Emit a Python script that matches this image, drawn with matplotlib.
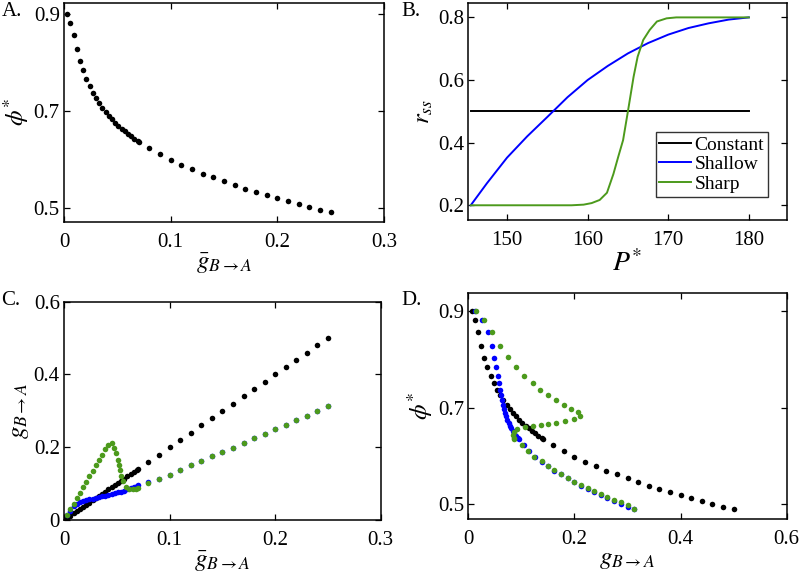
import matplotlib
matplotlib.use("Agg")
import matplotlib.pyplot as plt

plt.rcParams['font.family'] = ['Liberation Serif', 'DejaVu Serif']
plt.rcParams['mathtext.fontset'] = 'stix'

# shared gbar grid for the constant and shallow series
gbar = [0.003, 0.006, 0.009, 0.012, 0.015, 0.018, 0.021, 0.024, 0.027, 0.030,
        0.033, 0.036, 0.039, 0.042, 0.045, 0.048, 0.051, 0.054, 0.057, 0.060,
        0.063, 0.066, 0.069, 0.070, 0.080, 0.090, 0.100, 0.110, 0.120, 0.130,
        0.140, 0.150, 0.160, 0.170, 0.180, 0.190, 0.200, 0.210, 0.220, 0.230,
        0.240, 0.250]
phi = [0.899, 0.881, 0.856, 0.828, 0.803, 0.783, 0.766, 0.750, 0.737, 0.726,
       0.715, 0.706, 0.697, 0.689, 0.683, 0.675, 0.668, 0.663, 0.657, 0.652,
       0.648, 0.642, 0.637, 0.636, 0.623, 0.610, 0.599, 0.588, 0.579, 0.570,
       0.562, 0.554, 0.546, 0.539, 0.532, 0.525, 0.519, 0.513, 0.507, 0.501,
       0.494, 0.490]
g_const = [0.006, 0.012, 0.018, 0.024, 0.030, 0.036, 0.042, 0.048, 0.054, 0.060,
           0.066, 0.072, 0.078, 0.084, 0.090, 0.096, 0.102, 0.108, 0.114, 0.120,
           0.126, 0.132, 0.138, 0.140, 0.160, 0.180, 0.200, 0.220, 0.240, 0.260,
           0.280, 0.300, 0.320, 0.340, 0.360, 0.380, 0.400, 0.420, 0.440, 0.460,
           0.480, 0.500]
g_shallow = [0.013, 0.026, 0.038, 0.045, 0.049, 0.053, 0.055, 0.057, 0.059, 0.061,
             0.063, 0.065, 0.067, 0.069, 0.071, 0.073, 0.076, 0.078, 0.081, 0.084,
             0.087, 0.090, 0.094, 0.095, 0.105, 0.114, 0.125, 0.138, 0.150, 0.162,
             0.175, 0.187, 0.199, 0.212, 0.225, 0.237, 0.250, 0.262, 0.275, 0.287,
             0.300, 0.313]

# sharp series has its own (finer) grid around the bump
gbar_sharp = [0.003, 0.006, 0.009, 0.012, 0.015, 0.018, 0.021, 0.024, 0.027, 0.030,
              0.033, 0.036, 0.039, 0.042, 0.045, 0.047, 0.049, 0.051, 0.052, 0.053,
              0.054, 0.056, 0.059, 0.062, 0.065, 0.068, 0.070, 0.080, 0.090, 0.100,
              0.110, 0.120, 0.130, 0.140, 0.150, 0.160, 0.170, 0.180, 0.190, 0.200,
              0.210, 0.220, 0.230, 0.240, 0.250]
phi_sharp = [0.899, 0.881, 0.856, 0.828, 0.804, 0.783, 0.766, 0.751, 0.737, 0.726,
             0.715, 0.706, 0.698, 0.690, 0.682, 0.676, 0.673, 0.669, 0.667, 0.665,
             0.663, 0.660, 0.656, 0.650, 0.643, 0.638, 0.636, 0.622, 0.610, 0.599,
             0.589, 0.579, 0.571, 0.563, 0.554, 0.547, 0.540, 0.534, 0.528, 0.522,
             0.516, 0.510, 0.505, 0.498, 0.491]
g_sharp = [0.014, 0.030, 0.044, 0.060, 0.075, 0.090, 0.105, 0.121, 0.136, 0.151,
           0.165, 0.180, 0.194, 0.206, 0.211, 0.199, 0.183, 0.166, 0.151, 0.137,
           0.121, 0.106, 0.092, 0.086, 0.085, 0.086, 0.087, 0.102, 0.113, 0.124,
           0.138, 0.150, 0.162, 0.175, 0.187, 0.199, 0.212, 0.225, 0.237, 0.250,
           0.262, 0.275, 0.287, 0.300, 0.313]

# panel B response curves
P_const = [145.5, 180.0]
r_const = [0.5, 0.5]
P_shallow = [145.5, 147.5, 150.0, 152.5, 155.0, 157.5, 160.0, 162.5, 165.0,
             167.5, 170.0, 172.5, 175.0, 177.5, 180.0]
r_shallow = [0.200, 0.270, 0.352, 0.420, 0.482, 0.545, 0.600, 0.645, 0.685,
             0.718, 0.745, 0.766, 0.781, 0.793, 0.800]
P_sharp = [145.5, 155.0, 158.0, 159.5, 160.5, 161.5, 162.4, 163.2, 163.8, 164.4,
           165.0, 165.7, 166.2, 166.9, 167.7, 168.6, 169.8, 171.0, 180.0]
r_sharp = [0.200, 0.200, 0.200, 0.202, 0.207, 0.217, 0.240, 0.300, 0.355, 0.408,
           0.500, 0.610, 0.674, 0.728, 0.760, 0.787, 0.797, 0.800, 0.800]

black = 'black'
blue = '#0000ff'
green = '#4c9a1c'
ms = 4.0
tick_fs = 15
lab_fs = 18


def style(ax):
    ax.tick_params(direction='in', top=True, right=True, labelsize=tick_fs,
                   length=4, width=0.9)
    ax.tick_params(axis='x', pad=8)
    ax.tick_params(axis='y', pad=3)
    for s in ax.spines.values():
        s.set_linewidth(1.1)


fig = plt.figure(figsize=(8, 5.8), dpi=100)

# A
axA = fig.add_axes([0.08, 0.618, 0.40, 0.3766])
axA.plot(gbar, phi, 'o', color=black, ms=ms, mec='none')
axA.set_xlim(0, 0.3)
axA.set_ylim(0.471, 0.922)
axA.set_xticks([0, 0.1, 0.2, 0.3])
axA.set_xticklabels(['0', '0.1', '0.2', '0.3'])
axA.set_yticks([0.5, 0.7, 0.9])
axA.set_xlabel(r'$\bar{g}_{B\to A}$', fontsize=lab_fs, labelpad=0)
axA.set_ylabel(r'$\phi^{*}$', fontsize=lab_fs, labelpad=2)
style(axA)

# B
axB = fig.add_axes([0.5854, 0.6207, 0.398, 0.3736])
axB.plot(P_const, r_const, color=black, lw=1.4, label='Constant')
axB.plot(P_shallow, r_shallow, color=blue, lw=1.4, label='Shallow')
axB.plot(P_sharp, r_sharp, color=green, lw=1.4, label='Sharp')
axB.set_xlim(145.2, 184.7)
axB.set_ylim(0.153, 0.845)
axB.set_xticks([150, 160, 170, 180])
axB.set_yticks([0.2, 0.4, 0.6, 0.8])
axB.set_xlabel(r'$P^{*}$', fontsize=20, labelpad=0)
axB.set_ylabel(r'$r_{ss}$', fontsize=lab_fs, labelpad=2)
leg = axB.legend(loc='upper right', bbox_to_anchor=(0.941, 0.406), fontsize=14,
                 frameon=True, fancybox=False, borderaxespad=0, handlelength=1.6,
                 handletextpad=0.2, borderpad=0.2, labelspacing=0.1)
leg.get_frame().set_edgecolor('black')
leg.get_frame().set_linewidth(1.0)
style(axB)

# C
axC = fig.add_axes([0.08, 0.1034, 0.396, 0.3764])
axC.plot(gbar, g_const, 'o', color=black, ms=ms, mec='none')
axC.plot(gbar, g_shallow, 'o', color=blue, ms=ms, mec='none')
axC.plot(gbar_sharp, g_sharp, 'o', color=green, ms=ms, mec='none')
axC.set_xlim(0, 0.3)
axC.set_ylim(0, 0.6)
axC.set_xticks([0, 0.1, 0.2, 0.3])
axC.set_xticklabels(['0', '0.1', '0.2', '0.3'])
axC.set_yticks([0, 0.2, 0.4, 0.6])
axC.set_yticklabels(['0', '0.2', '0.4', '0.6'])
axC.set_xlabel(r'$\bar{g}_{B\to A}$', fontsize=lab_fs, labelpad=0)
axC.set_ylabel(r'$g_{B\to A}$', fontsize=lab_fs, labelpad=2)
style(axC)

# D
axD = fig.add_axes([0.5854, 0.1052, 0.398, 0.389])
axD.plot(g_const, phi, 'o', color=black, ms=ms, mec='none')
axD.plot(g_shallow, phi, 'o', color=blue, ms=ms, mec='none')
axD.plot(g_sharp, phi_sharp, 'o', color=green, ms=ms, mec='none')
axD.set_xlim(0, 0.6)
axD.set_ylim(0.47, 0.936)
axD.set_xticks([0, 0.2, 0.4, 0.6])
axD.set_xticklabels(['0', '0.2', '0.4', '0.6'])
axD.set_yticks([0.5, 0.7, 0.9])
axD.set_xlabel(r'$g_{B\to A}$', fontsize=lab_fs, labelpad=0)
axD.set_ylabel(r'$\phi^{*}$', fontsize=lab_fs, labelpad=2)
style(axD)

for x, y, t in [(0.002, 0.997, 'A.'), (0.502, 0.997, 'B.'),
                (0.002, 0.499, 'C.'), (0.502, 0.499, 'D.')]:
    fig.text(x, y, t, fontsize=15, ha='left', va='top')

fig.savefig('out.png', dpi=100)
